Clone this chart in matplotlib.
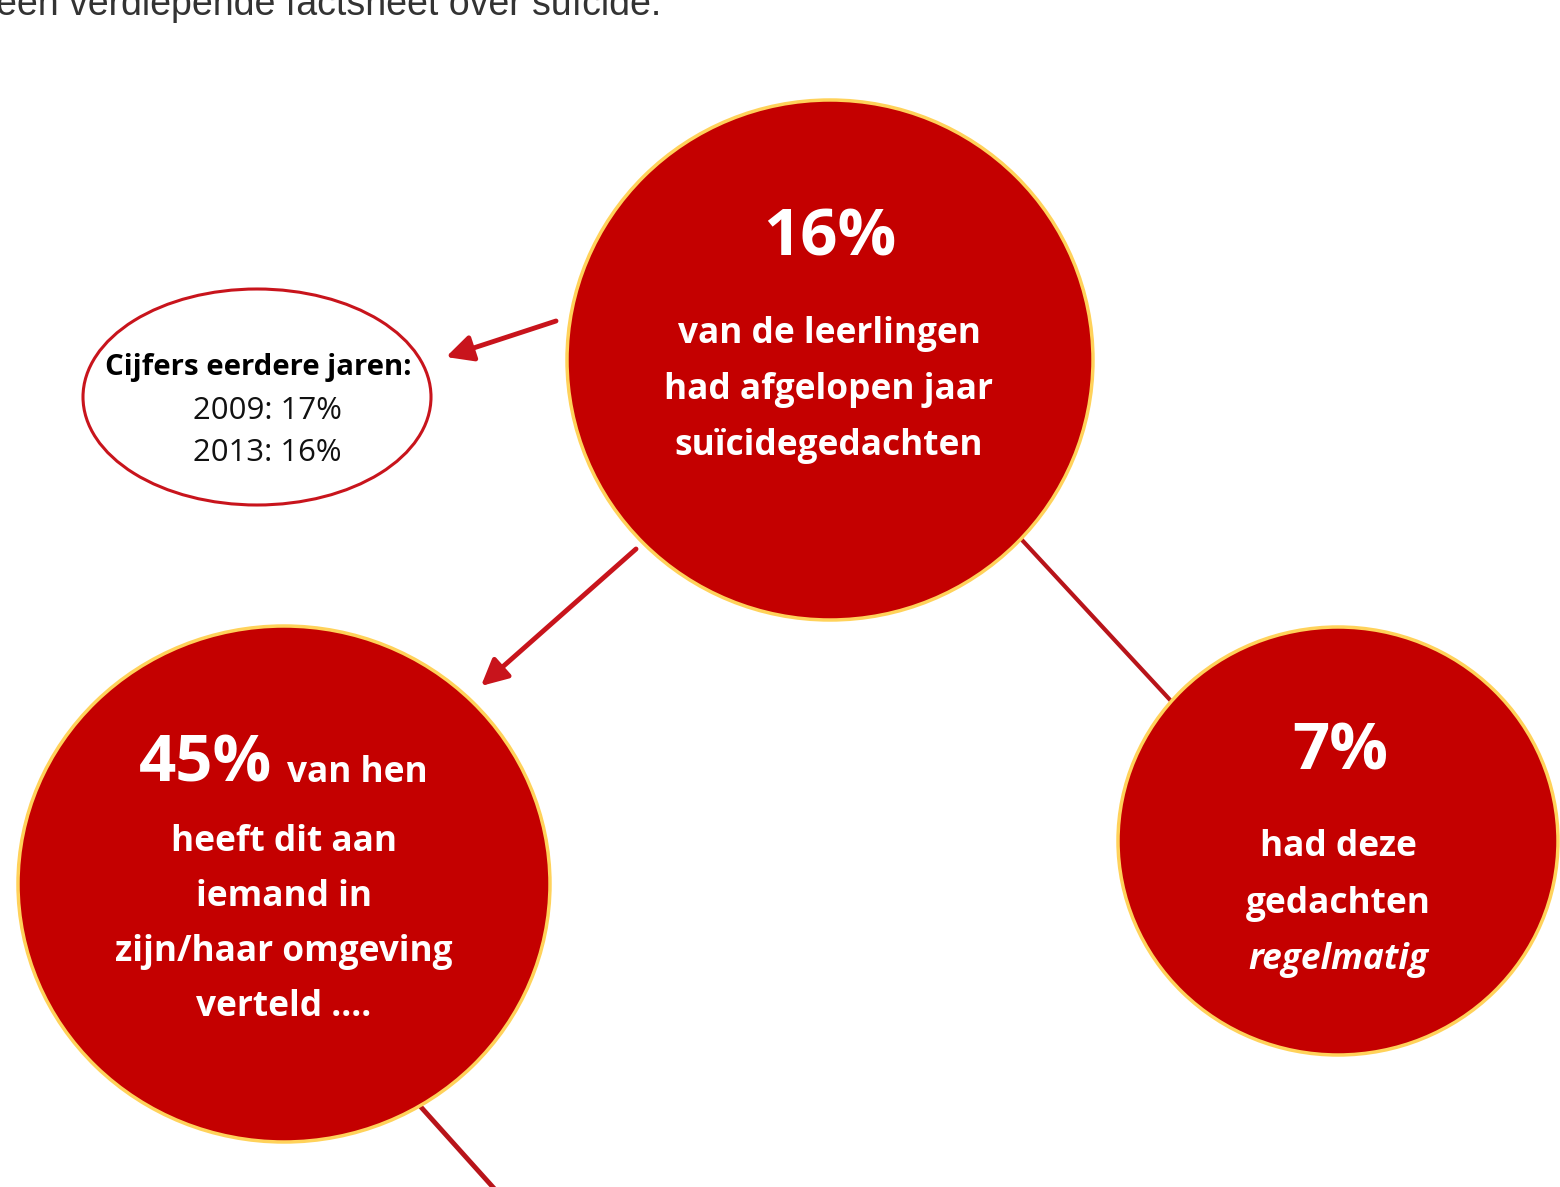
import matplotlib.pyplot as plt
from matplotlib.patches import Ellipse, FancyArrowPatch

# figures from the infographic
main_pct = "16%"
main_lines = ["van de leerlingen", "had afgelopen jaar", "suïcidegedachten"]
told_pct = "45%"
told_lines = ["heeft dit aan", "iemand in", "zijn/haar omgeving", "verteld ...."]
regular_pct = "7%"
regular_lines = ["had deze", "gedachten", "regelmatig"]
years = ["2009", "2013"]
year_pcts = ["17%", "16%"]

red = "#C40000"
edge = "#FFD25A"
font = "Open Sans"

fig = plt.figure(figsize=(15.6, 11.87), dpi=100)
ax = fig.add_axes([0, 0, 1, 1])
ax.set_xlim(0, 1560)
ax.set_ylim(1187, 0)
ax.axis("off")

ax.text(-4, 5, "een verdiepende factsheet over suïcide.", fontsize=27,
        color="#333333", family="Liberation Sans", va="center", ha="left")

# connectors
arrow_kw = dict(arrowstyle="-|>,head_length=0.8,head_width=0.4", color="#C8141C",
                lw=3.5, mutation_scale=20, shrinkA=0, shrinkB=0)
ax.add_patch(FancyArrowPatch((556, 321), (446, 357), **arrow_kw))
ax.add_patch(FancyArrowPatch((636, 549), (481, 686), **arrow_kw))
ax.plot([1022, 1172], [540, 702], color="#B8141A", lw=3, zorder=1)
ax.plot([420, 500], [1106, 1195], color="#B8141A", lw=3.5, zorder=1)

# bubbles (slightly oval, as in the picture)
for (cx, cy, w, h) in [(830, 360, 526, 520), (284, 884, 532, 516), (1338, 841, 440, 428)]:
    ax.add_patch(Ellipse((cx, cy), w, h, facecolor=red, edgecolor=edge, lw=2.5, zorder=2))

ax.add_patch(Ellipse((257, 397), 348, 216, facecolor="white", edgecolor="#C8141C",
                     lw=2.2, zorder=2))

# top bubble
ax.text(830, 239, main_pct, fontsize=47, fontweight="bold", color="white",
        family=font, ha="center", va="center", zorder=3)
for i, s in enumerate(main_lines):
    ax.text(829, 334 + i * 56, s, fontsize=25.4, fontweight="bold", color="white",
            family=font, ha="center", va="center", zorder=3)

# left bubble
ax.text(205, 765, told_pct, fontsize=47, fontweight="bold", color="white",
        family=font, ha="center", va="center", zorder=3)
ax.text(357, 773, "van hen", fontsize=25.4, fontweight="bold", color="white",
        family=font, ha="center", va="center", zorder=3)
for i, s in enumerate(told_lines):
    ax.text(284, 842 + i * 55, s, fontsize=25.4, fontweight="bold", color="white",
            family=font, ha="center", va="center", zorder=3)

# right bubble
ax.text(1340, 753, regular_pct, fontsize=47, fontweight="bold", color="white",
        family=font, ha="center", va="center", zorder=3)
for i, s in enumerate(regular_lines):
    ax.text(1338, 847 + i * 56.5, s, fontsize=25.4, fontweight="bold", color="white",
            family=font, ha="center", va="center", zorder=3,
            style="italic" if s == "regelmatig" else "normal")

# earlier years
ax.text(258, 367, "Cijfers eerdere jaren:", fontsize=21.2, fontweight="bold",
        color="black", family=font, ha="center", va="center", zorder=3)
for i, (y, p) in enumerate(zip(years, year_pcts)):
    ax.text(267, 411 + i * 42, f"{y}: {p}", fontsize=22.4, color="#111111",
            family=font, ha="center", va="center", zorder=3)

fig.savefig("out.png", dpi=100)
